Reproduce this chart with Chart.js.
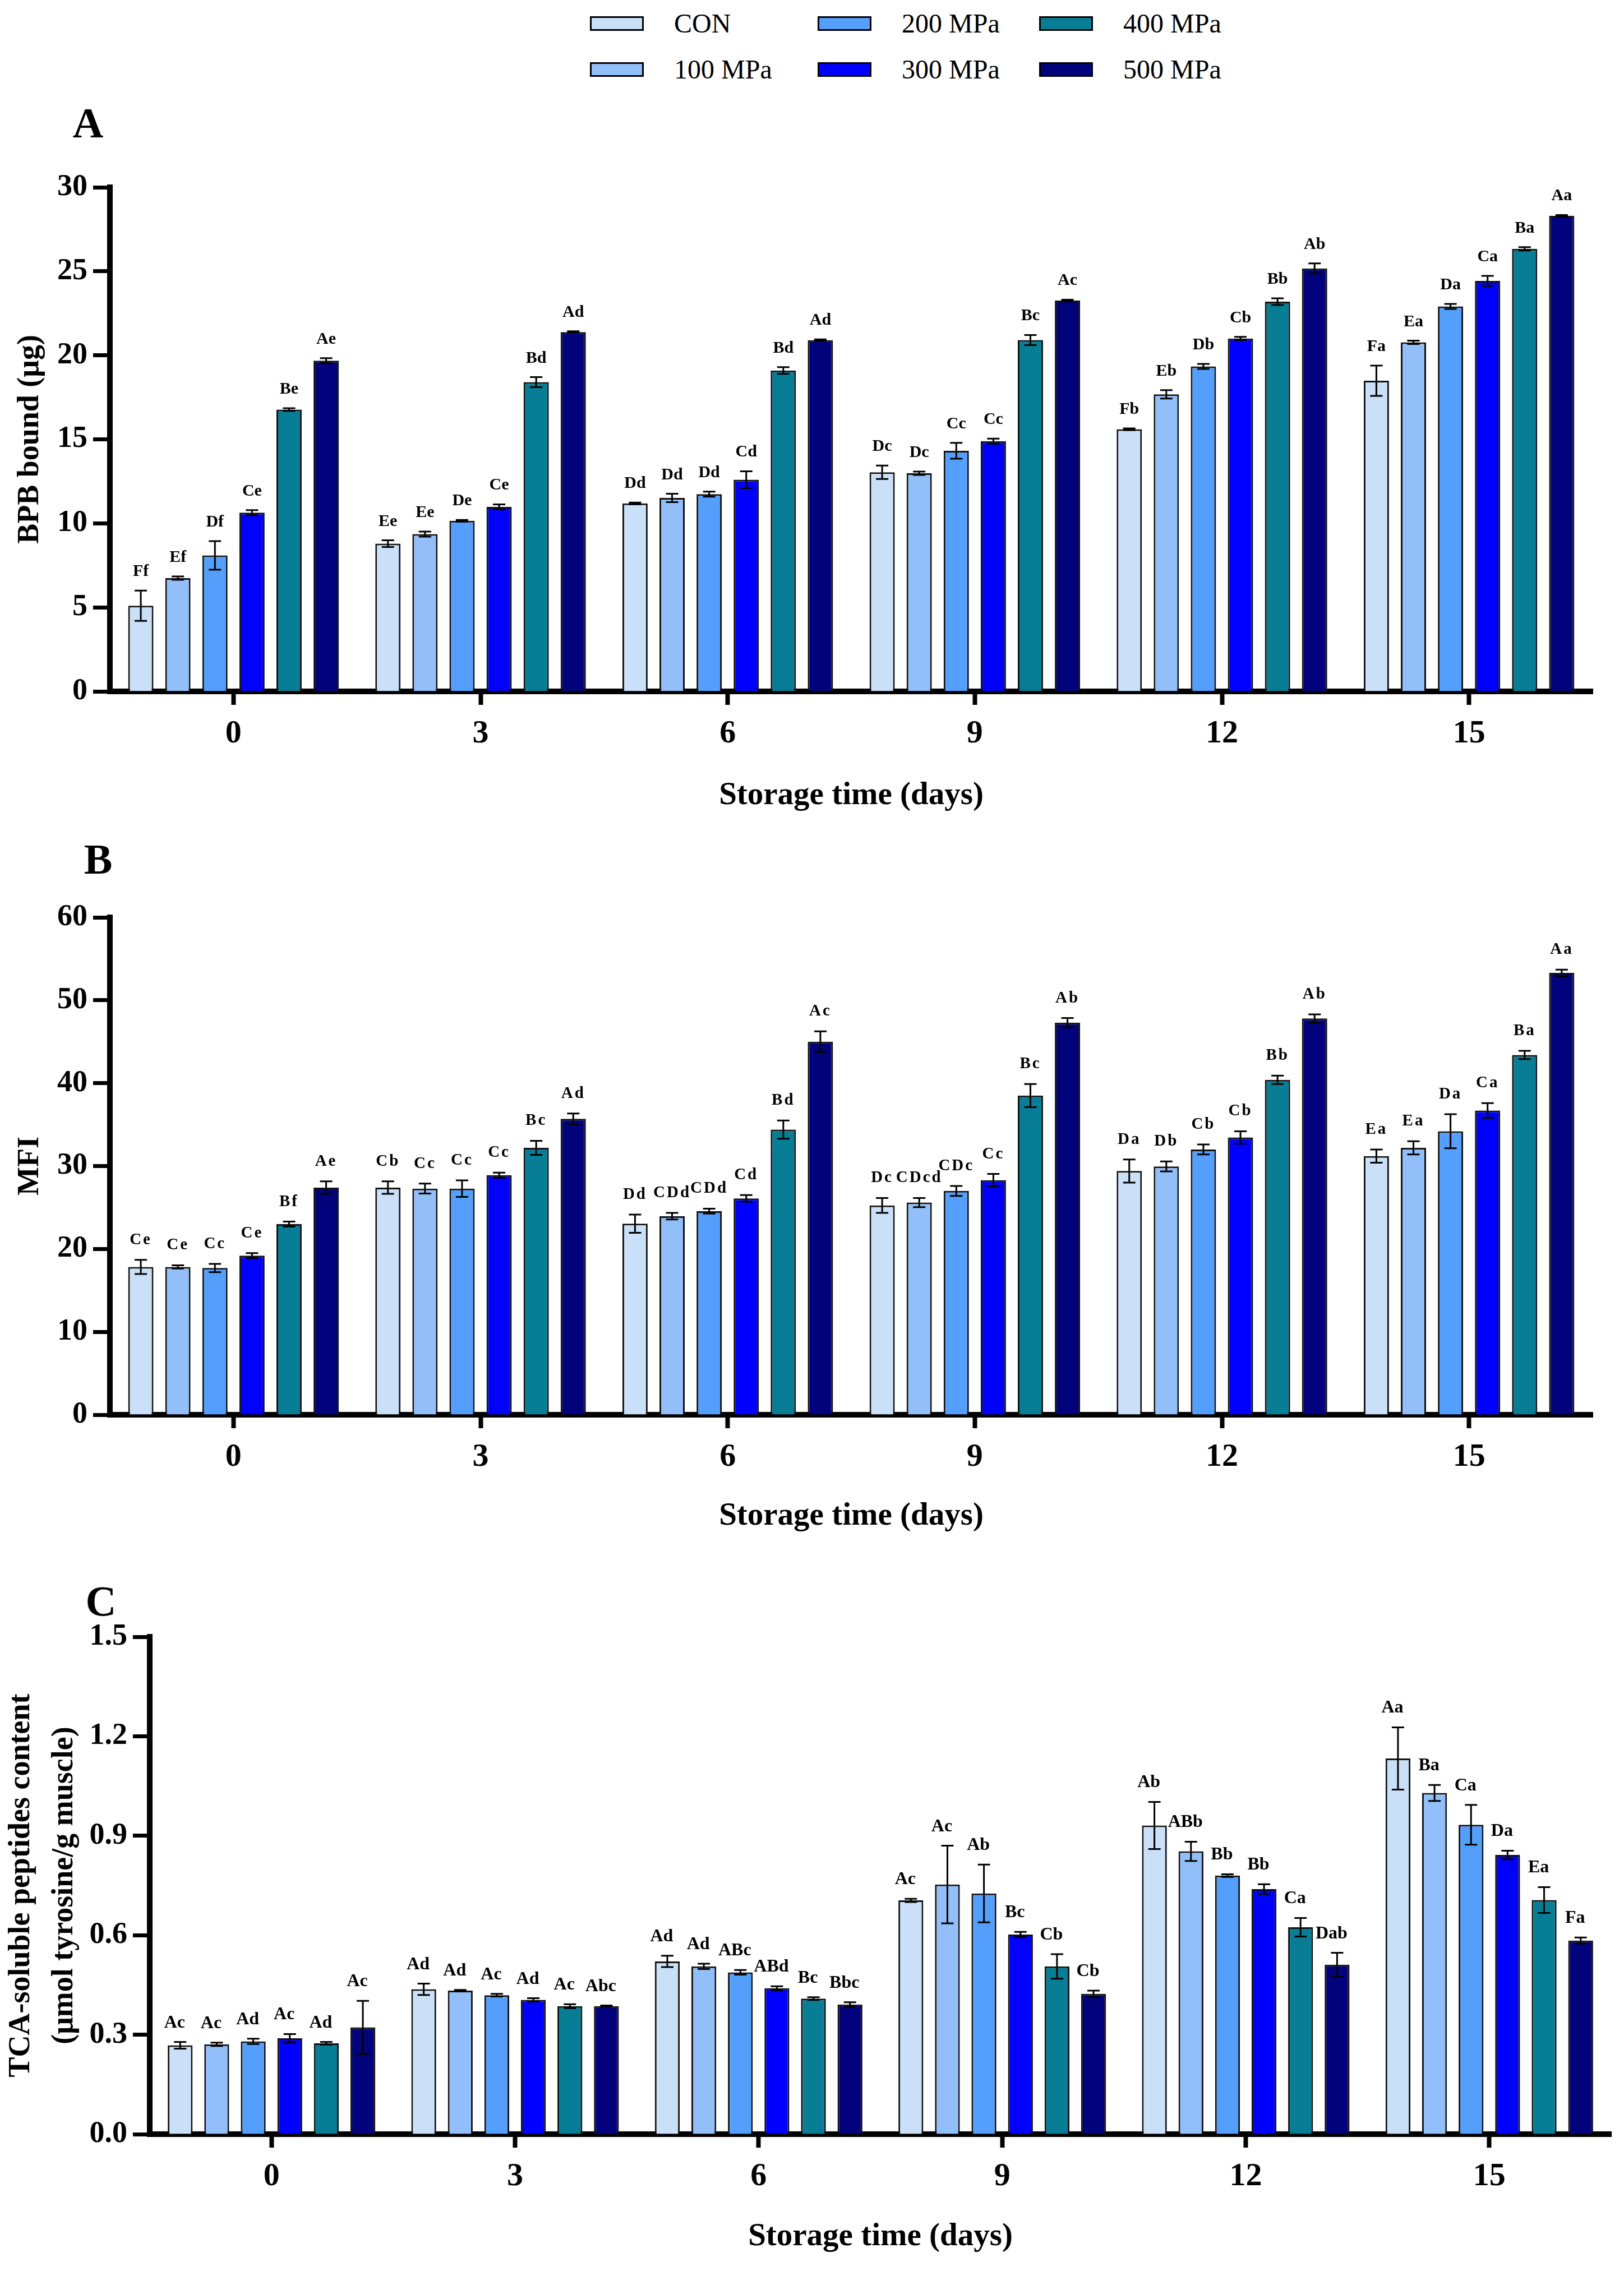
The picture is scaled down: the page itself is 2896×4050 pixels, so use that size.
<!DOCTYPE html>
<html lang="en">
<head>
    <meta charset="UTF-8">
    <title>BPB bound, MFI and TCA-soluble peptides during storage</title>
    <script src="https://cdn.jsdelivr.net/npm/chart.js"></script>
    <style>
        body {
            margin: 0;
            width: 2896px;
            height: 4050px;
            position: relative;
            background: #fff;
            overflow: hidden;
            font-family: 'Liberation Serif', 'Times New Roman', serif;
        }
        .panel {
            position: absolute;
            left: 0;
        }
        .letter {
            position: absolute;
            font-weight: bold;
            font-size: 76px;
            line-height: 1;
            transform: translate(-50%, -50%);
        }
        .swatch {
            position: absolute;
            width: 96px;
            height: 26px;
            box-sizing: border-box;
            border: 3px solid #000;
            transform: translateY(-50%);
        }
        .legtext {
            position: absolute;
            font-size: 48px;
            line-height: 1;
            transform: translateY(-50%);
        }
    </style>
</head>
<body>
    <div id="legend"></div>

    <div class="letter" style="left:157px; top:219px;">A</div>
    <div class="letter" style="left:175px; top:1532px;">B</div>
    <div class="letter" style="left:180px; top:2855px;">C</div>

    <div class="panel" style="top:170px;"><canvas id="chartA" width="2896" height="1300"></canvas></div>
    <div class="panel" style="top:1480px;"><canvas id="chartB" width="2896" height="1300"></canvas></div>
    <div class="panel" style="top:2790px;"><canvas id="chartC" width="2896" height="1260"></canvas></div>

    <script>
        // categories and groups
        const days = ['0', '3', '6', '9', '12', '15'];
        const groups = ['CON', '100 MPa', '200 MPa', '300 MPa', '400 MPa', '500 MPa'];
        const colors = ['#cadff8', '#92bff9', '#559ffc', '#0000ff', '#077e96', '#02027c'];

        // A - BPB bound (ug), one row per group, one column per day
        const bpbMean = [
            [5.1, 8.79, 11.19, 13.04, 15.6, 18.49],
            [6.74, 9.36, 11.51, 12.98, 17.68, 20.77],
            [8.09, 10.15, 11.74, 14.32, 19.34, 22.91],
            [10.64, 10.98, 12.6, 14.89, 21.0, 24.43],
            [16.77, 18.4, 19.1, 20.91, 23.19, 26.34],
            [19.68, 21.38, 20.9, 23.26, 25.17, 28.3]
        ];
        const bpbSd = [
            [0.9, 0.2, 0.05, 0.4, 0.05, 0.9],
            [0.1, 0.15, 0.25, 0.1, 0.25, 0.1],
            [0.85, 0.05, 0.15, 0.47, 0.15, 0.15],
            [0.15, 0.15, 0.5, 0.15, 0.1, 0.3],
            [0.08, 0.3, 0.2, 0.3, 0.2, 0.1],
            [0.15, 0.05, 0.05, 0.05, 0.3, 0.05]
        ];
        const bpbLetters = [
            ['Ff', 'Ee', 'Dd', 'Dc', 'Fb', 'Fa'],
            ['Ef', 'Ee', 'Dd', 'Dc', 'Eb', 'Ea'],
            ['Df', 'De', 'Dd', 'Cc', 'Db', 'Da'],
            ['Ce', 'Ce', 'Cd', 'Cc', 'Cb', 'Ca'],
            ['Be', 'Bd', 'Bd', 'Bc', 'Bb', 'Ba'],
            ['Ae', 'Ad', 'Ad', 'Ac', 'Ab', 'Aa']
        ];
        const bpbTicks = [0, 5, 10, 15, 20, 25, 30];

        // B - MFI
        const mfiMean = [
            [17.83, 27.4, 23.05, 25.25, 29.4, 31.2],
            [17.83, 27.28, 23.95, 25.6, 29.95, 32.2],
            [17.7, 27.28, 24.56, 27.0, 32.0, 34.2],
            [19.2, 28.9, 26.1, 28.3, 33.45, 36.7],
            [23.0, 32.2, 34.4, 38.5, 40.4, 43.4],
            [27.4, 35.7, 45.0, 47.3, 47.8, 53.3]
        ];
        const mfiSd = [
            [0.85, 0.75, 1.1, 0.9, 1.4, 0.8],
            [0.2, 0.6, 0.4, 0.55, 0.6, 0.8],
            [0.5, 1.0, 0.3, 0.6, 0.6, 2.05],
            [0.3, 0.3, 0.4, 0.75, 0.75, 0.9],
            [0.3, 0.85, 1.1, 1.4, 0.5, 0.5],
            [0.75, 0.65, 1.25, 0.55, 0.5, 0.4]
        ];
        const mfiLetters = [
            ['Ce', 'Cb', 'Dd', 'Dc', 'Da', 'Ea'],
            ['Ce', 'Cc', 'CDd', 'CDcd', 'Db', 'Ea'],
            ['Cc', 'Cc', 'CDd', 'CDc', 'Cb', 'Da'],
            ['Ce', 'Cc', 'Cd', 'Cc', 'Cb', 'Ca'],
            ['Bf', 'Bc', 'Bd', 'Bc', 'Bb', 'Ba'],
            ['Ae', 'Ad', 'Ac', 'Ab', 'Ab', 'Aa']
        ];
        const mfiTicks = [0, 10, 20, 30, 40, 50, 60];

        // C - TCA-soluble peptides (umol tyrosine/g muscle)
        const tcaMean = [
            [0.268, 0.437, 0.521, 0.705, 0.931, 1.133],
            [0.271, 0.433, 0.506, 0.753, 0.853, 1.029],
            [0.28, 0.419, 0.488, 0.726, 0.78, 0.933],
            [0.289, 0.405, 0.44, 0.602, 0.739, 0.842],
            [0.274, 0.386, 0.409, 0.506, 0.624, 0.706],
            [0.322, 0.386, 0.391, 0.423, 0.511, 0.584]
        ];
        const tcaSd = [
            [0.01, 0.017, 0.017, 0.005, 0.071, 0.094],
            [0.005, 0.002, 0.008, 0.117, 0.029, 0.024],
            [0.008, 0.004, 0.007, 0.087, 0.004, 0.06],
            [0.013, 0.005, 0.006, 0.008, 0.015, 0.013],
            [0.004, 0.006, 0.004, 0.037, 0.028, 0.039],
            [0.08, 0.002, 0.007, 0.01, 0.036, 0.009]
        ];
        const tcaLetters = [
            ['Ac', 'Ad', 'Ad', 'Ac', 'Ab', 'Aa'],
            ['Ac', 'Ad', 'Ad', 'Ac', 'ABb', 'Ba'],
            ['Ad', 'Ac', 'ABc', 'Ab', 'Bb', 'Ca'],
            ['Ac', 'Ad', 'ABd', 'Bc', 'Bb', 'Da'],
            ['Ad', 'Ac', 'Bc', 'Cb', 'Ca', 'Ea'],
            ['Ac', 'Abc', 'Bbc', 'Cb', 'Dab', 'Fa']
        ];
        const tcaTicks = [0, 0.3, 0.6, 0.9, 1.2, 1.5];

        const FONT = "'Liberation Serif', 'Times New Roman', serif";

        // legend (3 columns, 2 rows)
        const legendCols = [1052, 1458, 1853];
        const legendRows = [42, 124];
        const legend = document.getElementById('legend');
        groups.forEach((g, i) => {
            const col = Math.floor(i / 2), row = i % 2;
            const sw = document.createElement('div');
            sw.className = 'swatch';
            sw.style.left = legendCols[col] + 'px';
            sw.style.top = legendRows[row] + 'px';
            sw.style.background = colors[i];
            legend.appendChild(sw);
            const tx = document.createElement('div');
            tx.className = 'legtext';
            tx.style.left = (legendCols[col] + 150) + 'px';
            tx.style.top = legendRows[row] + 'px';
            tx.textContent = g;
            legend.appendChild(tx);
        });

        // error bars + significance letters
        const annotPlugin = {
            id: 'annot',
            afterDatasetsDraw(chart, args, opts) {
                const ctx = chart.ctx;
                const ys = chart.scales.y;
                chart.data.datasets.forEach((ds, i) => {
                    chart.getDatasetMeta(i).data.forEach((bar, j) => {
                        const v = ds.data[j], e = ds.sd[j];
                        const x = bar.x;
                        const yTop = ys.getPixelForValue(v + e);
                        const yBot = ys.getPixelForValue(v - e);
                        ctx.save();
                        ctx.strokeStyle = '#000';
                        ctx.lineWidth = 3;
                        ctx.beginPath();
                        ctx.moveTo(x, yTop); ctx.lineTo(x, yBot);
                        ctx.moveTo(x - 11, yTop); ctx.lineTo(x + 11, yTop);
                        ctx.moveTo(x - 11, yBot); ctx.lineTo(x + 11, yBot);
                        ctx.stroke();
                        ctx.font = opts.font;
                        if ('letterSpacing' in ctx) ctx.letterSpacing = opts.spacing || '0px';
                        ctx.fillStyle = '#000';
                        ctx.textAlign = 'center';
                        ctx.textBaseline = 'alphabetic';
                        ctx.fillText(ds.letters[j], x + (opts.dx || 0), yTop - opts.gap);
                        ctx.restore();
                    });
                });
            }
        };

        function makeChart(id, p) {
            return new Chart(document.getElementById(id), {
                type: 'bar',
                data: {
                    labels: days,
                    datasets: groups.map((g, i) => ({
                        label: g,
                        data: p.mean[i],
                        sd: p.sd[i],
                        letters: p.letters[i],
                        backgroundColor: colors[i],
                        borderColor: '#111',
                        borderWidth: 3,
                        categoryPercentage: 0.9,
                        barPercentage: 0.68
                    }))
                },
                options: {
                    responsive: false,
                    devicePixelRatio: 1,
                    animation: false,
                    layout: { padding: { top: p.padTop, right: p.padRight, left: 0, bottom: 0 } },
                    plugins: {
                        legend: { display: false },
                        tooltip: { enabled: false },
                        annot: p.annot
                    },
                    scales: {
                        x: {
                            offset: true,
                            grid: {
                                offset: false,
                                drawOnChartArea: false,
                                drawTicks: true,
                                tickLength: 24,
                                tickWidth: 8,
                                tickColor: '#000'
                            },
                            border: { display: true, width: 10, color: '#000' },
                            ticks: {
                                color: '#000',
                                padding: 17,
                                maxRotation: 0,
                                autoSkip: false,
                                font: { family: FONT, size: 58, weight: 'bold' }
                            },
                            title: {
                                display: true,
                                text: 'Storage time (days)',
                                color: '#000',
                                font: { family: FONT, size: 57, weight: 'bold', lineHeight: 1.2 },
                                padding: { top: 0, bottom: p.xTitlePad }
                            },
                            afterFit: s => { s.height = p.xHeight; }
                        },
                        y: {
                            min: p.ticks[0],
                            max: p.ticks[p.ticks.length - 1],
                            afterBuildTicks: s => { s.ticks = p.ticks.map(v => ({ value: v })); },
                            grid: {
                                drawOnChartArea: false,
                                drawTicks: true,
                                tickLength: 30,
                                tickWidth: 7,
                                tickColor: '#000'
                            },
                            border: { display: true, width: 10, color: '#000' },
                            ticks: {
                                color: '#000',
                                padding: 10,
                                font: { family: FONT, size: 54, weight: 'bold' },
                                callback: v => p.fmt(v)
                            },
                            title: {
                                display: true,
                                text: p.yTitle,
                                color: '#000',
                                font: { family: FONT, size: 54, weight: 'bold', lineHeight: p.yTitleLH },
                                padding: { top: p.yTitlePad, bottom: 0 }
                            },
                            afterFit: s => { s.width = p.yWidth; }
                        }
                    }
                },
                plugins: [annotPlugin]
            });
        }

        makeChart('chartA', {
            mean: bpbMean, sd: bpbSd, letters: bpbLetters, ticks: bpbTicks,
            fmt: v => String(v),
            yTitle: 'BPB bound (\u03bcg)', yTitleLH: 1.2, yTitlePad: 22,
            padTop: 164, padRight: 56, yWidth: 196, xHeight: 237, xTitlePad: 17,
            annot: { font: "bold 30px " + FONT, gap: 26 }
        });

        makeChart('chartB', {
            mean: mfiMean, sd: mfiSd, letters: mfiLetters, ticks: mfiTicks,
            fmt: v => String(v),
            yTitle: 'MFI', yTitleLH: 1.2, yTitlePad: 22,
            padTop: 156, padRight: 56, yWidth: 196, xHeight: 257, xTitlePad: 42,
            annot: { font: "bold 29px " + FONT, gap: 28, spacing: '3px' }
        });

        makeChart('chartC', {
            mean: tcaMean, sd: tcaSd, letters: tcaLetters, ticks: tcaTicks,
            fmt: v => v.toFixed(1),
            yTitle: ['TCA-soluble peptides content', '(\u03bcmol tyrosine/g muscle)'], yTitleLH: 1.42, yTitlePad: 0,
            padTop: 129, padRight: 23, yWidth: 267, xHeight: 244, xTitlePad: 27,
            annot: { font: "bold 32px " + FONT, gap: 26, dx: -10 }
        });
    </script>
</body>
</html>
